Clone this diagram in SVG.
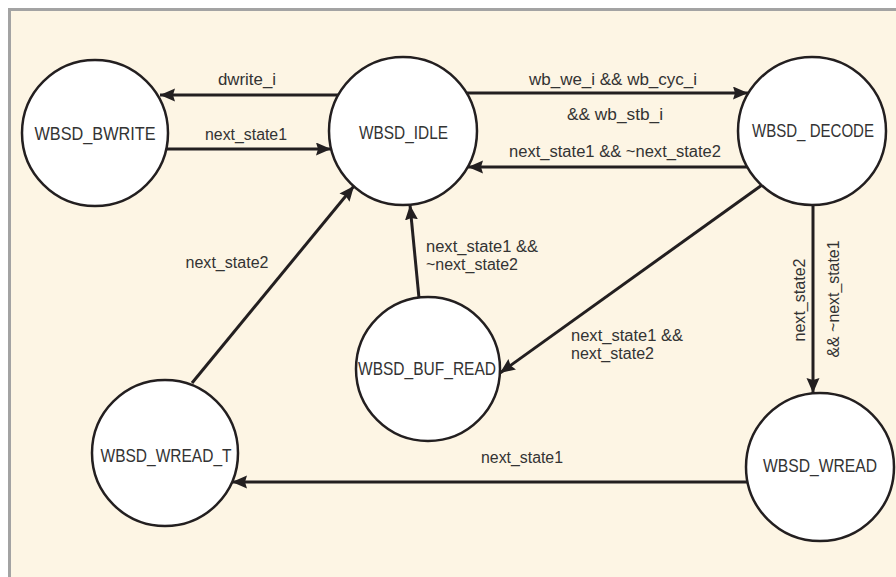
<svg xmlns="http://www.w3.org/2000/svg" width="896" height="577" viewBox="0 0 896 577">
<defs>
<style>
.bg{fill:#fdf5e4;stroke:#a3a3a3;stroke-width:3}
.node{fill:#ffffff;stroke:#231f20;stroke-width:2.5}
.edge{stroke:#231f20;stroke-width:3;fill:none;marker-end:url(#ah)}
.nl{font-family:"Liberation Sans",Arial,sans-serif;font-size:18px;fill:#333333;text-anchor:middle}
.el{font-family:"Liberation Sans",Arial,sans-serif;font-size:16px;fill:#333333}
.m{text-anchor:middle}
</style>
<marker id="ah" markerUnits="userSpaceOnUse" markerWidth="16" markerHeight="14" refX="15" refY="6.5" orient="auto">
<path d="M0,0 L15,6.5 L0,13 L2,6.5 z" fill="#231f20"/>
</marker>
</defs>
<rect class="bg" x="9.5" y="9.5" width="900" height="580"/>
<g id="connectors">
<line class="edge" x1="338" y1="95" x2="160" y2="95"/>
<line class="edge" x1="166" y1="149" x2="331" y2="149"/>
<line class="edge" x1="467" y1="93" x2="748" y2="93"/>
<line class="edge" x1="747" y1="167" x2="468" y2="167"/>
<line class="edge" x1="762" y1="185" x2="500" y2="373"/>
<line class="edge" x1="419" y1="298" x2="410" y2="205"/>
<line class="edge" x1="192" y1="383" x2="354" y2="186"/>
<line class="edge" x1="813" y1="205" x2="813" y2="393"/>
<line class="edge" x1="747" y1="482" x2="232" y2="482"/>
<text class="el m" x="247" y="85" textLength="58" lengthAdjust="spacingAndGlyphs">dwrite_i</text>
<text class="el m" x="246" y="140" textLength="82" lengthAdjust="spacingAndGlyphs">next_state1</text>
<text class="el m" x="613" y="85" textLength="168" lengthAdjust="spacingAndGlyphs">wb_we_i &amp;&amp; wb_cyc_i</text>
<text class="el m" x="615" y="120" textLength="96" lengthAdjust="spacingAndGlyphs">&amp;&amp; wb_stb_i</text>
<text class="el m" x="615" y="157" textLength="212" lengthAdjust="spacingAndGlyphs">next_state1 &amp;&amp; ~next_state2</text>
<text class="el" x="426" y="252" textLength="112" lengthAdjust="spacingAndGlyphs">next_state1 &amp;&amp;</text>
<text class="el" x="426" y="270" textLength="92" lengthAdjust="spacingAndGlyphs">~next_state2</text>
<text class="el m" x="227" y="268" textLength="83" lengthAdjust="spacingAndGlyphs">next_state2</text>
<text class="el" x="571" y="341" textLength="112" lengthAdjust="spacingAndGlyphs">next_state1 &amp;&amp;</text>
<text class="el" x="571" y="359" textLength="83" lengthAdjust="spacingAndGlyphs">next_state2</text>
<text class="el m" transform="translate(805,300) rotate(-90)" x="0" y="0" textLength="83" lengthAdjust="spacingAndGlyphs">next_state2</text>
<text class="el m" transform="translate(839,299) rotate(-90)" x="0" y="0" textLength="117" lengthAdjust="spacingAndGlyphs">&amp;&amp; ~next_state1</text>
<text class="el m" x="522" y="463" textLength="82" lengthAdjust="spacingAndGlyphs">next_state1</text>
</g>
<g id="WBSD_BWRITE">
<circle class="node" cx="95" cy="133" r="73"/>
<text class="nl" x="95" y="140" textLength="121" lengthAdjust="spacingAndGlyphs">WBSD_BWRITE</text>
</g>
<g id="WBSD_IDLE">
<circle class="node" cx="403" cy="131" r="74"/>
<text class="nl" x="403.5" y="139" textLength="89" lengthAdjust="spacingAndGlyphs">WBSD_IDLE</text>
</g>
<g id="WBSD_DECODE">
<circle class="node" cx="812" cy="131" r="74"/>
<text class="nl" x="813" y="137" textLength="122" lengthAdjust="spacingAndGlyphs">WBSD_ DECODE</text>
</g>
<g id="WBSD_BUF_READ">
<circle class="node" cx="428" cy="369" r="72"/>
<text class="nl" x="427" y="375" textLength="138" lengthAdjust="spacingAndGlyphs">WBSD_BUF_READ</text>
</g>
<g id="WBSD_WREAD_T">
<circle class="node" cx="165" cy="453" r="73"/>
<text class="nl" x="166" y="462" textLength="131" lengthAdjust="spacingAndGlyphs">WBSD_WREAD_T</text>
</g>
<g id="WBSD_WREAD">
<circle class="node" cx="820" cy="467" r="74"/>
<text class="nl" x="820" y="472" textLength="114" lengthAdjust="spacingAndGlyphs">WBSD_WREAD</text>
</g>
</svg>
